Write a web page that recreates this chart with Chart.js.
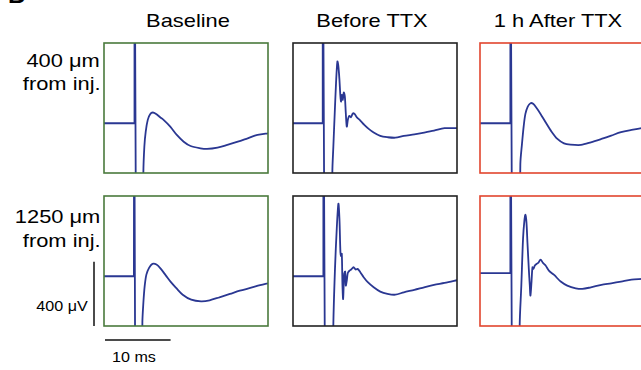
<!DOCTYPE html>
<html>
<head>
<meta charset="utf-8">
<script src="https://cdn.jsdelivr.net/npm/chart.js"></script>
<style>
  body { margin: 0; background: #fff; }
  #fig { position: relative; width: 641px; height: 370px; overflow: hidden; font-family: "Liberation Sans", Arial, sans-serif; color: #000; }
  #fig canvas { position: absolute; }
  .lbl { position: absolute; white-space: nowrap; font-size: 19px; line-height: 19px; }
  .small { font-size: 14px; line-height: 14px; }
</style>
</head>
<body>
<div id="fig">
  <div class="lbl" style="left:8px; top:-17px; font-size:24px; line-height:24px; font-weight:bold;">B</div>

  <div class="lbl" id="title0" style="top:11px;"></div>
  <div class="lbl" id="title1" style="top:11px;"></div>
  <div class="lbl" id="title2" style="top:11px;"></div>

  <div class="lbl" id="row0a" style="top:51px;"></div>
  <div class="lbl" id="row0b" style="top:74px;"></div>
  <div class="lbl" id="row1a" style="top:207px;"></div>
  <div class="lbl" id="row1b" style="top:231px;"></div>

  <div class="lbl small" id="ampLabel" style="top:299px;"></div>
  <div class="lbl small" id="timeLabel" style="top:350px;"></div>

  <canvas id="p0"></canvas>
  <canvas id="p1"></canvas>
  <canvas id="p2"></canvas>
  <canvas id="p3"></canvas>
  <canvas id="p4"></canvas>
  <canvas id="p5"></canvas>
</div>

<script>
// column titles and row labels
const conditions = ['Baseline', 'Before TTX', '1 h After TTX'];
const distances = [['400 \u03bcm', 'from inj.'], ['1250 \u03bcm', 'from inj.']];
const ampBar = 400;   // µV
const timeBar = 10;   // ms
const ampBarText = '400 \u03bcV';
const timeBarText = '10 ms';

// sweep window (ms) and voltage window (µV) shown in each box
const sweepRange = [0, 25];
const voltRange = [-310, 500];

// stimulus artifact: onset, end of downstroke, resting level (µV)
// order: 400 µm Baseline, Before, After, 1250 µm Baseline, Before, After
const stimOn = [4.62, 4.5, 4.6, 4.56, 4.6, 4.6];
const stimOff = [4.95, 4.87, 4.97, 4.82, 4.97, 4.97];
const restLevel = [0, 0, 0, 0, 0, 19];

// evoked field potentials, time (ms) and voltage (µV)
const t400Base = [5.95, 6.0, 6.15, 6.36, 6.67, 7.03, 7.44, 7.95, 8.56, 9.08, 10.1, 11.1, 12.15, 13.2, 14.7, 15.7, 17.3, 18.8, 20.4, 21.9, 23.4, 25.2];
const v400Base = [-1000, -312, -146, -52, 21, 56, 67, 58, 37, 21, -21, -73, -115, -142, -156, -160, -152, -135, -115, -94, -73, -62];

const t400Before = [5.9, 6.0, 6.15, 6.36, 6.56, 6.77, 6.92, 7.08, 7.23, 7.33, 7.44, 7.59, 7.74, 7.9, 8.05, 8.2, 8.36, 8.56, 8.82, 9.13, 9.38, 9.74, 10.26, 10.87, 11.54, 12.3, 13.3, 14.4, 15.6, 16.9, 18.5, 20, 21.5, 23.1, 25.2];
const v400Before = [-1000, -302, -146, 62, 250, 385, 354, 271, 167, 135, 177, 146, 192, 167, 62, -21, 21, 46, 37, 62, 58, 37, 17, -10, -35, -58, -79, -87, -90, -79, -69, -58, -46, -31, -31];

const t400After = [5.95, 6.15, 6.4, 6.67, 6.92, 7.28, 7.7, 8.1, 8.6, 9.23, 10, 10.8, 11.8, 12.8, 13.8, 15.4, 16.9, 18.5, 20, 21.5, 23.1, 24.8, 25.3];
const v400After = [-1000, -254, -129, -15, 58, 104, 125, 121, 96, 58, 6, -46, -98, -125, -133, -135, -119, -98, -77, -56, -42, -29, -27];

const t1250Base = [5.8, 5.85, 6.0, 6.2, 6.46, 6.87, 7.38, 8.0, 8.67, 9.44, 10.2, 11, 12, 13.3, 14.8, 16.1, 17.6, 19.2, 20.7, 22.3, 23.8, 25.2];
const v1250Base = [-1000, -290, -167, -62, 10, 52, 77, 73, 46, 4, -37, -73, -115, -146, -156, -150, -131, -110, -90, -73, -56, -42];

const t1250Before = [6.0, 6.15, 6.4, 6.67, 6.92, 7.08, 7.23, 7.33, 7.44, 7.54, 7.64, 7.8, 7.95, 8.05, 8.2, 8.36, 8.62, 8.87, 9.23, 9.54, 9.85, 10.26, 10.77, 11.4, 12.3, 13.3, 14.4, 15.6, 16.9, 18.5, 20, 21.5, 23.1, 25.2];
const v1250Before = [-1000, -304, 46, 296, 452, 358, 150, 125, 140, -58, -142, 15, 29, -58, -27, 21, 35, 42, 56, 42, 46, 25, -6, -37, -69, -96, -110, -115, -100, -85, -69, -54, -42, -23];

const t1250After = [5.95, 6.05, 6.3, 6.56, 6.77, 6.92, 7.08, 7.23, 7.44, 7.59, 7.69, 7.85, 8.0, 8.15, 8.36, 8.62, 8.87, 9.23, 9.6, 10, 10.5, 11.3, 12.3, 13.3, 14.6, 15.6, 16.9, 18.5, 20, 21.5, 23.1, 24.8, 25.3];
const v1250After = [-1000, -304, -58, 233, 348, 383, 337, 212, 46, -58, -121, -37, 56, 46, 67, 77, 83, 104, 83, 67, 35, 8, -33, -58, -75, -79, -69, -54, -44, -33, -21, -17, -15];

const traceT = [t400Base, t400Before, t400After, t1250Base, t1250Before, t1250After];
const traceV = [v400Base, v400Before, v400After, v1250Base, v1250Before, v1250After];

// layout of the boxes on the page
const colLeft = [104, 293, 480];
const rowTop = [43, 196];
const boxW = 164, boxH = 130;
const frameColors = ['#4a7a3c', '#222222', '#e2452e'];
const traceColor = '#2a3792';

// text placement
function place(id, text, x, align) {
  const el = document.getElementById(id);
  el.textContent = text;
  el.style.transform = 'scaleX(1.15)';
  if (align === 'center') {
    el.style.left = x + 'px';
    el.style.transform = 'translateX(-50%) scaleX(1.15)';
  } else if (align === 'right') {
    el.style.right = (641 - x) + 'px';
    el.style.transformOrigin = 'right center';
  } else {
    el.style.left = x + 'px';
    el.style.transformOrigin = 'left center';
  }
}
place('title0', conditions[0], 188, 'center');
place('title1', conditions[1], 372, 'center');
place('title2', conditions[2], 558, 'center');
place('row0a', distances[0][0], 100, 'right');
place('row0b', distances[0][1], 101, 'right');
place('row1a', distances[1][0], 100, 'right');
place('row1b', distances[1][1], 101, 'right');
place('ampLabel', ampBarText, 88, 'right');
place('timeLabel', timeBarText, 112, 'left');

// box outline around the plotting area
const panelFrame = {
  id: 'panelFrame',
  afterDatasetsDraw(chart, args, opts) {
    const { ctx, chartArea: a } = chart;
    ctx.save();
    ctx.strokeStyle = opts.color;
    ctx.lineWidth = 1.6;
    ctx.strokeRect(a.left, a.top, a.right - a.left, a.bottom - a.top);
    ctx.restore();
  }
};

// calibration bars drawn from the chart's own scales
const scaleBars = {
  id: 'scaleBars',
  afterDraw(chart) {
    const { ctx, chartArea: a, scales } = chart;
    const yb = scales.y.getPixelForValue(voltRange[0]);
    const yt = scales.y.getPixelForValue(voltRange[0] + ampBar);
    const x0 = scales.x.getPixelForValue(sweepRange[0]);
    const x1 = scales.x.getPixelForValue(sweepRange[0] + timeBar);
    ctx.save();
    ctx.strokeStyle = '#111';
    ctx.lineWidth = 1.5;
    ctx.beginPath();
    ctx.moveTo(a.left - 10, yt);
    ctx.lineTo(a.left - 10, yb);
    ctx.moveTo(x0 + 1, a.bottom + 14);
    ctx.lineTo(x1 + 1, a.bottom + 14);
    ctx.stroke();
    ctx.restore();
  }
};

function makePanel(i) {
  const row = Math.floor(i / 3), col = i % 3;
  const withBars = (i === 3);
  const pad = withBars ? { left: 16, right: 2, top: 2, bottom: 20 } : { left: 2, right: 2, top: 2, bottom: 2 };
  const canvas = document.getElementById('p' + i);
  canvas.width = boxW + pad.left + pad.right;
  canvas.height = boxH + pad.top + pad.bottom;
  canvas.style.left = (colLeft[col] - pad.left) + 'px';
  canvas.style.top = (rowTop[row] - pad.top) + 'px';

  const rest = restLevel[i];
  const stim = [
    { x: sweepRange[0], y: rest },
    { x: stimOn[i], y: rest },
    { x: stimOn[i] + 0.03, y: 1500 },
    { x: stimOff[i], y: -1500 }
  ];
  const resp = traceT[i].map((t, k) => ({ x: t, y: traceV[i][k] }));

  new Chart(canvas, {
    type: 'line',
    data: {
      datasets: [
        { data: stim, borderColor: traceColor, borderWidth: 1.8, pointRadius: 0, tension: 0 },
        { data: resp, borderColor: traceColor, borderWidth: 1.8, pointRadius: 0, tension: 0.3 }
      ]
    },
    options: {
      responsive: false,
      devicePixelRatio: 1,
      animation: false,
      layout: { padding: pad },
      scales: {
        x: { type: 'linear', min: sweepRange[0], max: sweepRange[1], display: false },
        y: { type: 'linear', min: voltRange[0], max: voltRange[1], display: false }
      },
      plugins: {
        legend: { display: false },
        tooltip: { enabled: false },
        panelFrame: { color: frameColors[col] }
      }
    },
    plugins: withBars ? [panelFrame, scaleBars] : [panelFrame]
  });
}

for (let i = 0; i < 6; i++) makePanel(i);
</script>
</body>
</html>
